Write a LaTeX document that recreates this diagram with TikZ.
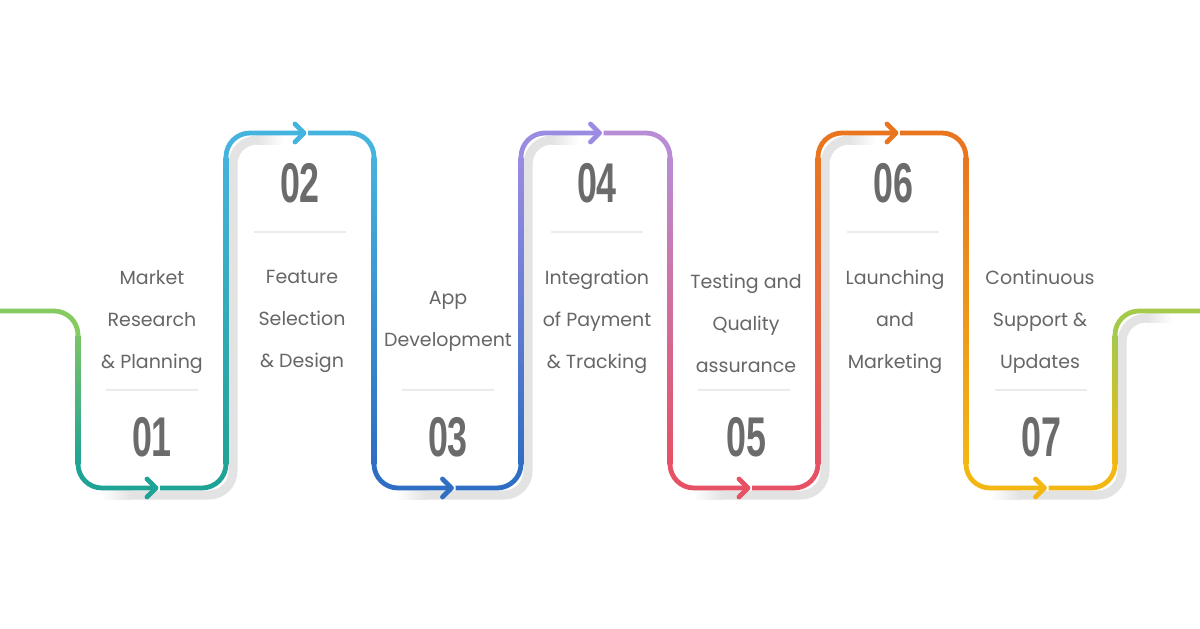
\documentclass[tikz,border=0pt]{standalone}
\usepackage{fontspec}
\setmainfont{Poppins}
\newfontfamily\numfont{Liberation Sans}
\definecolor{G0}{HTML}{86CB62}
\definecolor{G1}{HTML}{7BC466}
\definecolor{T}{HTML}{1FA396}
\definecolor{C}{HTML}{44B3DD}
\definecolor{B}{HTML}{2E6EC3}
\definecolor{P}{HTML}{9C8BE3}
\definecolor{P2}{HTML}{B98CD6}
\definecolor{R}{HTML}{E65163}
\definecolor{O}{HTML}{E9761E}
\definecolor{Y}{HTML}{F3B713}
\definecolor{L}{HTML}{A5C94B}
\definecolor{shadowgray}{HTML}{E3E3E3}
\definecolor{txtgray}{HTML}{666666}
\definecolor{numgray}{HTML}{6B6B6B}
\definecolor{divgray}{HTML}{EBEBEB}
\begin{document}
\begin{tikzpicture}[x=0.5pt,y=-0.5pt,
  ln/.style={line width=2.4pt, line join=round, rounded corners=12pt},
  tip/.style={line width=2.4pt, line join=round, line cap=round},
  sh/.style={draw=shadowgray, line width=4.5pt, rounded corners=12pt},
  lbl/.style={font=\fontsize{9.5}{21}\selectfont, text=txtgray, align=center, inner sep=0pt},
  num/.style={font=\numfont\bfseries\fontsize{28}{28}\selectfont, text=numgray, inner sep=0pt},
  div/.style={draw=divgray, line width=0.8pt}]
\useasboundingbox[fill=white] (0,0) rectangle (1200,628);

% shadows
\foreach \xb/\yt in {226/140,521/140,818/140,1115/318}{
  \shade[left color=white, right color=shadowgray] (\xb-125,490.5) rectangle (\xb-95,499.5);
  \draw[sh] (\xb-95.5,495) -- (\xb+7,495) -- (\xb+7,\yt) -- (\xb+31.5,\yt);
  \shade[left color=shadowgray, right color=white] (\xb+31,\yt-4.5) rectangle (\xb+58,\yt+4.5);
}

% vertical gradient strokes
\foreach \x/\yt/\ct/\cb in {78/335/G1/T, 226/157/C/T, 374/157/C/B, 521/157/P/B, 670/157/P2/R, 818/157/O/R, 966/157/O/Y, 1115/335/L/Y}{
  \shade[top color=\ct, bottom color=\cb] ({\x-2.4},\yt) rectangle ({\x+2.4},464);
}

% ends
\draw[ln,draw=G0] (0,311) -- (78,311) -- (78,336);
\draw[ln,draw=L] (1115,336) -- (1115,311) -- (1200,311);

% bottom loops
\foreach \xa/\xb/\c in {78/226/T, 374/521/B, 670/818/R, 966/1115/Y}{
  \pgfmathsetmacro{\cx}{(\xa+\xb)/2}
  \draw[ln,draw=\c] (\xa,463) -- (\xa,488) -- (\cx+4,488);
  \draw[ln,draw=\c] (\cx+8,488) -- (\xb,488) -- (\xb,463);
  \draw[tip,draw=\c] (\cx-5,479) -- (\cx+4,488) -- (\cx-5,497);
}
% top loops
\foreach \xa/\xb/\ca/\cb in {226/374/C/C, 521/670/P/P2, 818/966/O/O}{
  \pgfmathsetmacro{\cx}{(\xa+\xb)/2}
  \draw[ln,draw=\ca] (\xa,158) -- (\xa,133) -- (\cx+4,133);
  \draw[ln,draw=\cb] (\cx+8,133) -- (\xb,133) -- (\xb,158);
  \draw[tip,draw=\ca] (\cx-5,124) -- (\cx+4,133) -- (\cx-5,142);
}

% dividers
\foreach \cx in {152,448,744,1041}{ \draw[div] (\cx-46,390) -- (\cx+46,390); }
\foreach \cx in {300,597,893}{ \draw[div] (\cx-46,232) -- (\cx+46,232); }

% numbers
\node[num] (n1) at (152,437) {\scalebox{0.64}[1]{01}};
\node[num] (n2) at (300,183) {\scalebox{0.64}[1]{02}};
\node[num] (n3) at (448,437) {\scalebox{0.64}[1]{03}};
\node[num] (n4) at (597,183) {\scalebox{0.64}[1]{04}};
\node[num] (n5) at (746,437) {\scalebox{0.64}[1]{05}};
\node[num] (n6) at (893,183) {\scalebox{0.64}[1]{06}};
\node[num] (n7) at (1041,437) {\scalebox{0.64}[1]{07}};

% labels
\node[lbl] (t1) at (152,322) {Market\\Research\\\& Planning};
\node[lbl] (t2) at (302,321) {Feature\\Selection\\\& Design};
\node[lbl] (t3) at (448,321) {App\\Development};
\node[lbl] (t4) at (597,322) {Integration\\of Payment\\\& Tracking};
\node[lbl] (t5) at (746,323) {Testing and\\Quality\\assurance};
\node[lbl] (t6) at (895,322) {Launching\\and\\Marketing};
\node[lbl] (t7) at (1040,322) {Continuous\\Support \&\\Updates};
\end{tikzpicture}
\end{document}
